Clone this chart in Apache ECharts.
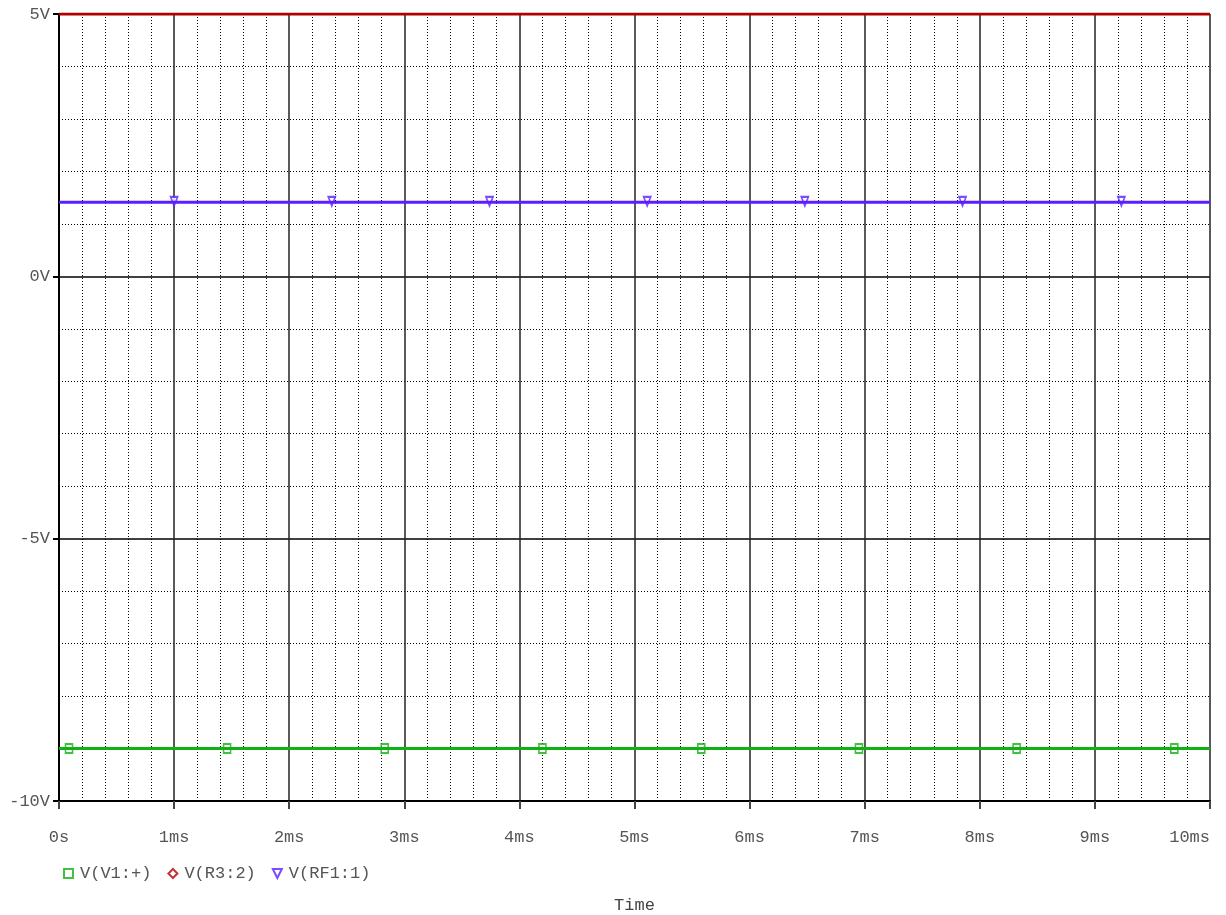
<!DOCTYPE html>
<html>
<head>
<meta charset="utf-8">
<script src="https://cdn.jsdelivr.net/npm/echarts@6/dist/echarts.min.js"></script>
<style>html,body{margin:0;padding:0;background:#fff}#c{width:1226px;height:915px}</style>
</head>
<body>
<div id="c"></div>
<script>
// Time range (ms) of the traces
const timeSpan = [0, 10];
// Constant trace levels (V)
const v1Level = -9.0;
const r3Level = 5.0;
const rf1Level = 1.41;
// Marker positions along time axis (ms)
const v1Markers = [0.087, 1.46, 2.83, 4.20, 5.58, 6.95, 8.32, 9.69];
const rf1Markers = [1.0, 2.37, 3.74, 5.11, 6.48, 7.85, 9.23];
const r3Markers = [];
// Legend names
const names = ['V(V1:+)', 'V(R3:2)', 'V(RF1:1)'];
// Tick labels
const yTicks = {'5': '5V', '0': '0V', '-5': '-5V', '-10': '-10V'};

const green = '#12b012', red = '#b00000', blue = '#5a1eff';
const font = 'Liberation Mono';

const lineData = lvl => timeSpan.map(t => [t, lvl]);
const markData = (arr, lvl) => arr.map(t => [t, lvl]);

const chart = echarts.init(document.getElementById('c'));
chart.setOption({
  animation: false,
  backgroundColor: '#fff',
  grid: {left: 59, right: 16, top: 14, bottom: 114, containLabel: false, outerBoundsMode: 'none'},
  xAxis: {
    type: 'value', min: 0, max: 10, interval: 1,
    name: 'Time', nameLocation: 'middle', nameGap: 96,
    nameTextStyle: {fontFamily: font, fontSize: 17, color: '#444'},
    axisLine: {onZero: false, lineStyle: {color: '#000', width: 2}},
    axisTick: {show: true, length: 8, lineStyle: {color: '#444', width: 2}},
    axisLabel: {fontFamily: font, fontSize: 17, color: '#555', margin: 28,
      alignMaxLabel: 'right',
      formatter: v => v === 0 ? '0s' : v + 'ms'},
    splitLine: {show: true, lineStyle: {color: '#222', width: 1.5}},
    minorTick: {show: true, splitNumber: 5, length: 0},
    minorSplitLine: {show: true, lineStyle: {color: '#000', width: 1, type: [1, 2]}}
  },
  yAxis: {
    type: 'value', min: -10, max: 5, interval: 5,
    axisLine: {show: true, onZero: false, lineStyle: {color: '#000', width: 2}},
    axisTick: {show: true, length: 6, lineStyle: {color: '#000', width: 2}},
    axisLabel: {fontFamily: font, fontSize: 17, color: '#555', margin: 9,
      formatter: v => yTicks[String(v)] || ''},
    splitLine: {show: true, lineStyle: {color: '#000', width: 1.5}},
    minorTick: {show: true, splitNumber: 5, length: 0},
    minorSplitLine: {show: true, lineStyle: {color: '#000', width: 1, type: [1, 2]}}
  },
  legend: {
    left: 58, top: 860, itemWidth: 9, itemHeight: 9, itemGap: 16,
    textStyle: {fontFamily: font, fontSize: 17, color: '#555', padding: [0, 0, 0, 2]},
    data: [
      {name: names[0], icon: 'rect'},
      {name: names[1], icon: 'diamond'},
      {name: names[2], icon: 'path://M0,0 L10,0 L5,10 Z'}
    ]
  },
  series: [
    {type: 'line', name: 'l1', data: lineData(v1Level), showSymbol: false,
      lineStyle: {color: green, width: 3}, silent: true},
    {type: 'line', name: 'l2', data: lineData(r3Level), showSymbol: false,
      lineStyle: {color: red, width: 3}, silent: true},
    {type: 'line', name: 'l3', data: lineData(rf1Level), showSymbol: false,
      lineStyle: {color: blue, width: 3}, silent: true},
    {type: 'scatter', name: names[0], data: markData(v1Markers, v1Level),
      symbol: 'rect', symbolSize: [7, 9],
      itemStyle: {color: '#fff', borderColor: green, borderWidth: 1.8}},
    {type: 'scatter', name: names[1], data: markData(r3Markers, r3Level),
      symbol: 'diamond', symbolSize: [7, 10],
      itemStyle: {color: '#fff', borderColor: red, borderWidth: 1.8}},
    {type: 'scatter', name: names[2], data: markData(rf1Markers, rf1Level),
      symbol: 'path://M0,0 L10,0 L5,10 Z', symbolSize: [7, 9], symbolOffset: [0, -1],
      itemStyle: {color: '#fff', borderColor: blue, borderWidth: 1.8}}
  ]
});
</script>
</body>
</html>
